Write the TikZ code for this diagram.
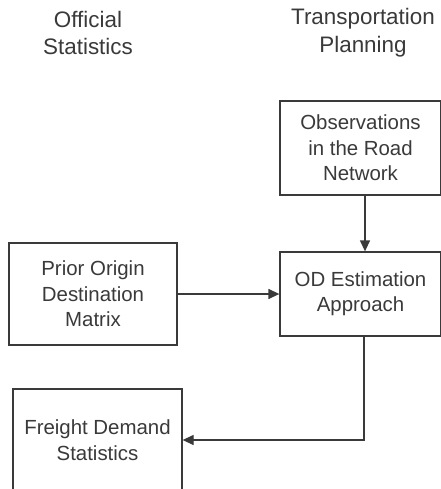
\documentclass[tikz,border=0pt]{standalone}
\usepackage{fontspec}
\setmainfont{Liberation Sans}
\usetikzlibrary{arrows.meta}
\definecolor{ink}{HTML}{3A3A3A}
\tikzset{
  block/.style={draw=ink, line width=1.3bp, text=ink, align=center,
    font=\fontsize{20.5}{25.5}\selectfont, inner sep=0pt},
  header/.style={text=ink, align=center, font=\fontsize{22.5}{28}\selectfont, inner sep=0pt},
  flow/.style={draw=ink, line width=1.3bp, -{Triangle[length=11bp,width=10bp]}}
}
\begin{document}
\begin{tikzpicture}[x=1bp,y=-1bp]
  \clip (0,0) rectangle (441,489);
  \fill[white] (0,0) rectangle (441,489);

  % column headings
  \node[header] (hOS) at (88,33) {Official\\Statistics};
  \node[header] (hTP) at (363,33) {Transportation\\Planning};

  % process blocks
  \node[block, minimum width=161bp, minimum height=94bp] (obs) at (360.5,148) {Observations\\in the Road\\Network};
  \node[block, minimum width=161bp, minimum height=84bp] (od) at (360.5,294) {OD Estimation\\Approach};
  \node[block, minimum width=168bp, minimum height=102bp] (prior) at (93,294) {Prior Origin\\Destination\\Matrix};
  \node[block, minimum width=169bp, minimum height=102bp] (freight) at (97.5,440) {Freight Demand\\Statistics};

  % connectors
  \draw[flow] ([xshift=4.5bp]obs.south) -- ([xshift=4.5bp]od.north);
  \draw[flow] (prior.east) -- (od.west);
  \draw[flow] ([xshift=3.5bp]od.south) |- (freight.east);
\end{tikzpicture}
\end{document}
